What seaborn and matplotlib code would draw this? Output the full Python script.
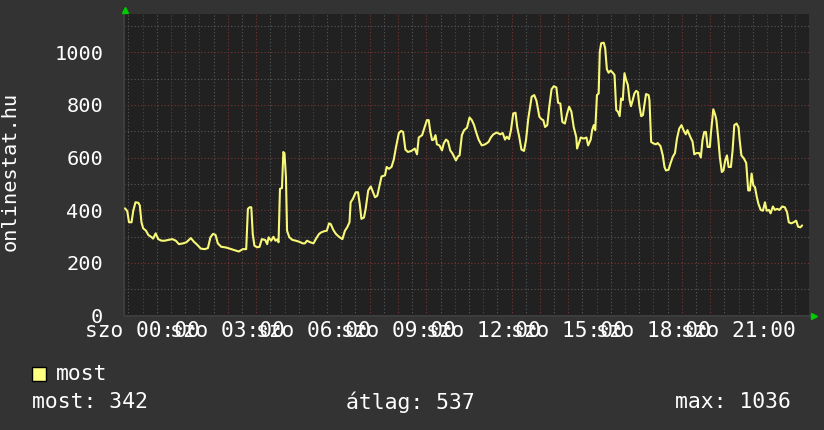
import pandas as pd
import matplotlib.pyplot as plt
import seaborn as sns

# online users (hours since sat 00:00)
hours = [
    -0.62, -0.54, -0.48, -0.39, -0.33, -0.25, -0.15, -0.10, -0.04, 0.02,
    0.12, 0.20, 0.32, 0.37, 0.46, 0.55, 0.67, 0.78, 0.90, 1.05,
    1.17, 1.28, 1.43, 1.54, 1.70, 1.80, 1.92, 2.05, 2.19, 2.30,
    2.39, 2.48, 2.57, 2.65, 2.77, 2.95, 3.12, 3.30, 3.39,
    3.53, 3.65, 3.71, 3.77, 3.83, 3.88, 3.94, 4.04, 4.12, 4.20,
    4.32, 4.39, 4.44, 4.53, 4.61, 4.68, 4.74, 4.79, 4.84, 4.91,
    4.96, 5.00, 5.05, 5.09, 5.17, 5.28, 5.40, 5.52, 5.64, 5.72,
    5.79, 5.91, 6.02, 6.14, 6.22, 6.30, 6.40, 6.49, 6.57, 6.63,
    6.72, 6.81, 6.92, 7.04, 7.13, 7.21,
    7.29, 7.33, 7.41, 7.51, 7.59, 7.65, 7.71, 7.80, 7.86, 7.95,
    8.04, 8.12, 8.19, 8.27, 8.35, 8.42, 8.54, 8.60, 8.68, 8.77,
    8.85, 8.93, 9.03, 9.11, 9.18, 9.26, 9.35, 9.47, 9.59, 9.67,
    9.73, 9.85, 9.94, 10.02, 10.08, 10.14, 10.20, 10.26, 10.32, 10.37,
    10.46, 10.55, 10.61, 10.69, 10.76, 10.84, 10.92, 10.99, 11.04, 11.11,
    11.17, 11.25, 11.33, 11.43, 11.52,
    11.60, 11.68, 11.75, 11.84, 11.95, 12.07, 12.19, 12.27, 12.36, 12.48,
    12.60, 12.69, 12.77, 12.83, 12.91, 12.98, 13.06, 13.14, 13.20, 13.27,
    13.35, 13.44, 13.51, 13.59, 13.71, 13.80, 13.88, 13.98, 14.06, 14.12,
    14.18, 14.26, 14.33, 14.41, 14.49, 14.58, 14.64, 14.72, 14.79, 14.88,
    14.96, 15.03, 15.11, 15.19, 15.28,
    15.31, 15.44, 15.55, 15.64, 15.70, 15.79, 15.84, 15.90, 15.95, 16.01,
    16.07, 16.11, 16.16, 16.25, 16.30, 16.36, 16.42, 16.49, 16.57, 16.63,
    16.69, 16.75, 16.81, 16.86, 16.92, 16.98, 17.04, 17.10, 17.16, 17.21,
    17.27, 17.33, 17.39, 17.45, 17.51, 17.57, 17.63, 17.68, 17.74, 17.83,
    17.86, 17.92, 18.01, 18.09, 18.15, 18.25, 18.33, 18.39, 18.44, 18.53,
    18.60, 18.68, 18.76, 18.83, 18.91, 18.99, 19.06, 19.14, 19.20, 19.30,
    19.38, 19.44, 19.52,
    19.61, 19.67, 19.73, 19.79, 19.85, 19.91, 19.99, 20.02, 20.11, 20.18,
    20.22, 20.29, 20.34, 20.41, 20.47, 20.53, 20.59, 20.65, 20.73, 20.79,
    20.85, 20.93, 21.00, 21.04, 21.10, 21.19, 21.27, 21.34, 21.40, 21.46,
    21.52, 21.58, 21.64, 21.70, 21.78, 21.86, 21.93, 21.99, 22.07, 22.13,
    22.21, 22.28, 22.36, 22.44, 22.54, 22.63, 22.71, 22.77, 22.86, 22.94,
    23.03, 23.10, 23.18, 23.24,
]
online = [
    407, 396, 354, 354, 398, 430, 428, 418, 354, 331,
    322, 306, 297, 292, 312, 290, 284, 284, 287, 290,
    284, 271, 274, 278, 294, 281, 269, 254, 252, 256,
    297, 310, 306, 274, 261, 258, 252, 246, 243,
    252, 252, 405, 411, 411, 310, 265, 259, 261, 290,
    287, 271, 297, 284, 299, 284, 289, 278, 481, 484,
    621, 615, 526, 322, 297, 287, 284, 280, 274, 274,
    284, 278, 274, 297, 310, 316, 320, 322, 350, 347,
    325, 310, 299, 290, 322, 335,
    354, 430, 443, 468, 468, 424, 367, 372, 405, 475,
    490, 468, 449, 455, 494, 528, 532, 564, 557, 564,
    592, 640, 693, 701, 697, 630, 621, 625, 634, 612,
    676, 685, 716, 742, 742, 697, 666, 668, 685, 650,
    646, 627, 653, 668, 662, 627, 615, 600, 589, 604,
    608, 685, 704, 713, 752,
    742, 723, 697, 668, 646, 650, 659, 676, 688, 695,
    688, 693, 668, 679, 670, 704, 767, 770, 716, 679,
    630, 625, 666, 748, 831, 837, 815, 755, 745, 742,
    716, 723, 793, 859, 871, 866, 808, 805, 735, 729,
    767, 793, 774, 716, 678,
    634, 676, 672, 676, 646, 668, 704, 723, 704, 837,
    843, 1002, 1034, 1036, 1015, 935, 922, 930, 922, 913,
    780, 774, 757, 824, 818, 920, 894, 875, 818, 795,
    818, 843, 853, 849, 793, 757, 761, 799, 841, 837,
    818, 659, 653, 650, 655, 643, 608, 564, 551, 553,
    577, 602, 617, 672, 710, 723, 704, 688, 704, 678,
    660, 612, 617,
    617, 600, 666, 697, 697, 640, 640, 685, 783, 761,
    742, 666, 602, 545, 551, 589, 608, 564, 564, 627,
    723, 729, 714, 666, 608, 596, 579, 475, 475, 539,
    494, 487, 452, 424, 401, 398, 430, 398, 401, 388,
    414, 401, 405, 401, 414, 411, 392, 354, 350, 354,
    360, 337, 335, 342,
]

label_hours = [0, 3, 6, 9, 12, 15, 18, 21]
label_texts = ["szo 00:00", "szo 03:00", "szo 06:00", "szo 09:00",
               "szo 12:00", "szo 15:00", "szo 18:00", "szo 21:00"]
y_major = [0, 200, 400, 600, 800, 1000]
stat_most, stat_atlag, stat_max = 342, 537, 1036

sns.set_theme(style="dark")
plt.rcParams['font.family'] = ['DejaVu Sans Mono', 'DejaVu Sans']

BG = '#333333'
PLOT_BG = '#212121'
LINE = '#f8f878'
MINOR = '#585858'
MAJOR = '#7a3434'
FS = 14.6
FS_X = 15.2
FS_LEG = 15.4

df = pd.DataFrame({'ora': hours, 'most': online})

fig = plt.figure(figsize=(8.24, 4.30), dpi=100, facecolor=BG)
ax = fig.add_axes([124 / 824, 1 - 315.5 / 430, 685.5 / 824, 301.5 / 430])
ax.set_facecolor(PLOT_BG)

sns.lineplot(data=df, x='ora', y='most', ax=ax, color=LINE, linewidth=1.5, zorder=3)

ax.set_xlim(-0.656, 23.396)
ax.set_ylim(0, 1145)

# grid: gray every 30 min / 100, red every hour / 200
ax.set_xticks([h for h in range(0, 24)])
ax.set_xticks([h + 0.5 for h in range(-1, 24)], minor=True)
ax.set_xticklabels([label_texts[label_hours.index(h)] if h in label_hours else ''
                    for h in range(0, 24)])
ax.set_yticks(y_major)
ax.set_yticks([100, 300, 500, 700, 900, 1100], minor=True)
ax.set_yticklabels([str(v) for v in y_major])

ax.grid(which='minor', color=MINOR, linestyle=(0, (1, 2)), linewidth=0.8)
ax.grid(which='major', color=MAJOR, linestyle=(0, (1, 2)), linewidth=0.8)
ax.set_axisbelow(True)

ax.tick_params(axis='both', which='both', length=0, colors='white')
ax.tick_params(axis='x', pad=4, labelsize=FS_X)
ax.tick_params(axis='y', pad=15, labelsize=FS)
ax.set_xlabel('')
ax.set_ylabel('')

for side in ['top', 'right']:
    ax.spines[side].set_visible(False)
for side in ['left', 'bottom']:
    ax.spines[side].set_color('#3c3c3c')
    ax.spines[side].set_linewidth(1.5)

fig.text(10 / 824, 1 - 171 / 430, 'onlinestat.hu', rotation=90, color='white',
         fontsize=FS, ha='center', va='center')

# axis arrows
fig.add_artist(plt.Line2D([125 / 824], [1 - 10 / 430], marker='^', color='#00cc00',
                          markersize=5, linestyle='none'))
fig.add_artist(plt.Line2D([814 / 824], [1 - 315.5 / 430], marker='>', color='#00cc00',
                          markersize=5, linestyle='none'))

# legend + stats
fig.add_artist(plt.Rectangle((32 / 824, 1 - 381 / 430), 14 / 824, 14 / 430,
                             facecolor='#ffff80', edgecolor='black', linewidth=1))
fig.text(56 / 824, 1 - 374 / 430, 'most', color='white', fontsize=FS_LEG, va='center')
fig.text(32 / 824, 1 - 402 / 430, f'most: {stat_most}', color='white', fontsize=FS_LEG,
         va='center')
fig.text(346 / 824, 1 - 402 / 430, f'átlag: {stat_atlag}', color='white', fontsize=FS_LEG,
         va='center')
fig.text(791 / 824, 1 - 402 / 430, f'max: {stat_max}', color='white', fontsize=FS_LEG,
         va='center', ha='right')

fig.savefig('out.png', dpi=100, facecolor=BG)
